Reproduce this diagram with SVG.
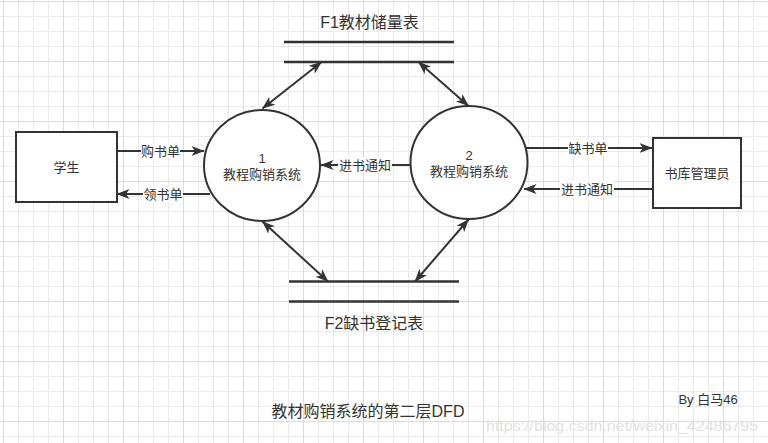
<svg xmlns="http://www.w3.org/2000/svg" width="768" height="443" viewBox="0 0 768 443">
<style>
text{font-family:"Liberation Sans","Noto Sans CJK SC",sans-serif;fill:#333;text-anchor:middle;dominant-baseline:central}
.box{fill:#fff;stroke:#333;stroke-width:2}
.conn{stroke:#333;stroke-width:2;fill:none}
.store{stroke:#333;stroke-width:2.5}
.lbl{fill:#fff}
.t13{font-size:13px}
.t16{font-size:16px}
</style>
<defs>
<pattern id="grid" x="3" y="1" width="60" height="60" patternUnits="userSpaceOnUse">
<path d="M15.5 0V60M30.5 0V60M45.5 0V60M0 15.5H60M0 30.5H60M0 45.5H60" stroke="#ebebeb" stroke-width="1" fill="none"/>
<path d="M0.5 0V60M0 0.5H60" stroke="#dcdcdc" stroke-width="1" fill="none"/>
</pattern>
<marker id="arr" viewBox="0 0 13 11" refX="12.5" refY="5.5" markerWidth="13" markerHeight="11" markerUnits="userSpaceOnUse" orient="auto-start-reverse">
<path d="M0,0.5 L13,5.5 L0,10.5 L3.5,5.5 z" fill="#333"/>
</marker>
</defs>
<rect width="768" height="443" fill="#fff"/>
<rect width="768" height="443" fill="url(#grid)"/>

<g id="connectors">
<line class="conn" x1="117" y1="151" x2="204" y2="151" marker-end="url(#arr)"/>
<line class="conn" x1="210" y1="194" x2="117" y2="194" marker-end="url(#arr)"/>
<line class="conn" x1="411" y1="165" x2="321" y2="165" marker-end="url(#arr)"/>
<line class="conn" x1="525" y1="148" x2="652" y2="148" marker-end="url(#arr)"/>
<line class="conn" x1="653" y1="189" x2="524" y2="189" marker-end="url(#arr)"/>
<line class="conn" x1="321.5" y1="62" x2="262.5" y2="108.5" marker-start="url(#arr)" marker-end="url(#arr)"/>
<line class="conn" x1="418.5" y1="62" x2="468.5" y2="106" marker-start="url(#arr)" marker-end="url(#arr)"/>
<line class="conn" x1="262.5" y1="221.5" x2="328" y2="281.5" marker-start="url(#arr)" marker-end="url(#arr)"/>
<line class="conn" x1="468.5" y1="219.5" x2="415" y2="281.5" marker-start="url(#arr)" marker-end="url(#arr)"/>
<rect class="lbl" x="141" y="143" width="39" height="16"/>
<text class="t13" x="160.5" y="151">购书单</text>
<rect class="lbl" x="143" y="186" width="40" height="16"/>
<text class="t13" x="163" y="194">领书单</text>
<rect class="lbl" x="338" y="157" width="54" height="16"/>
<text class="t13" x="365" y="165">进书通知</text>
<rect class="lbl" x="568" y="140" width="40" height="16"/>
<text class="t13" x="588" y="148">缺书单</text>
<rect class="lbl" x="560" y="181" width="54" height="16"/>
<text class="t13" x="587" y="189">进书通知</text>
</g>

<g id="student">
<rect class="box" x="16" y="132" width="101" height="70"/>
<text class="t13" x="66.5" y="167">学生</text>
</g>
<g id="manager">
<rect class="box" x="653" y="138" width="88" height="70"/>
<text class="t13" x="697" y="173">书库管理员</text>
</g>
<g id="process1">
<ellipse class="box" cx="262" cy="165.5" rx="58" ry="55.5"/>
<text class="t13" x="262" y="158">1</text>
<text class="t13" x="262" y="174">教程购销系统</text>
</g>
<g id="process2">
<ellipse class="box" cx="469" cy="162.5" rx="58.5" ry="56.5"/>
<text class="t13" x="469" y="155">2</text>
<text class="t13" x="469" y="171.5">教程购销系统</text>
</g>
<g id="store1">
<line class="store" x1="284" y1="42" x2="454" y2="42"/>
<line class="store" x1="284" y1="62" x2="454" y2="62"/>
<text class="t16" x="369.5" y="22">F1教材储量表</text>
</g>
<g id="store2">
<line class="store" x1="289" y1="281.5" x2="459" y2="281.5"/>
<line class="store" x1="289" y1="301.5" x2="459" y2="301.5"/>
<text class="t16" x="374" y="323">F2缺书登记表</text>
</g>
<g id="captions">
<text class="t16" x="368" y="411.5">教材购销系统的第二层DFD</text>
<text class="t13" x="708" y="399">By 白马46</text>
<text x="622" y="425" style="font-size:15px;fill:#e2e2e2" textLength="272" lengthAdjust="spacingAndGlyphs">https://blog.csdn.net/weixin_42486795</text>
</g>
</svg>
